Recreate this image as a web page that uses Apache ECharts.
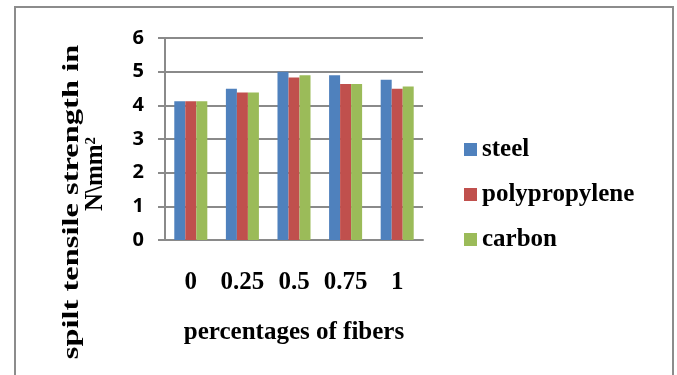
<!DOCTYPE html>
<html>
<head>
<meta charset="utf-8">
<script src="https://cdn.jsdelivr.net/npm/echarts@6/dist/echarts.min.js"></script>
<style>
html,body{margin:0;padding:0;background:#fff;}
#chart{width:677px;height:375px;}
</style>
</head>
<body>
<div id="chart"></div>
<script>
var categories = ['0', '0.25', '0.5', '0.75', '1'];
var seriesNames = ['steel', 'polypropylene', 'carbon'];
var steel = [4.12, 4.49, 5.0, 4.89, 4.76];
var polypropylene = [4.12, 4.38, 4.83, 4.63, 4.49];
var carbon = [4.12, 4.38, 4.89, 4.63, 4.56];
var yTicks = [0, 1, 2, 3, 4, 5, 6];
var colors = ['#4F81BD', '#C0504D', '#9BBB59'];

var serif = '"Liberation Serif", "Times New Roman", serif';
var chart = echarts.init(document.getElementById('chart'));
var values = [steel, polypropylene, carbon];
chart.setOption({
  animation: false,
  backgroundColor: '#fff',
  grid: {left: 165, top: 38, width: 258, height: 202, containLabel: false},
  legend: {
    orient: 'vertical', left: 464, top: 137, padding: 0,
    itemWidth: 13, itemHeight: 13, itemGap: 20,
    icon: 'rect',
    data: seriesNames,
    textStyle: {fontFamily: serif, fontWeight: 'bold', fontSize: 25, lineHeight: 25, color: '#000'}
  },
  xAxis: {
    type: 'category', data: categories,
    axisLine: {lineStyle: {color: '#8a8a8a', width: 2}},
    axisTick: {show: false},
    axisLabel: {interval: 0, fontFamily: serif, fontWeight: 'bold', fontSize: 25, color: '#000', margin: 30},
    name: 'percentages of fibers', nameLocation: 'middle', nameGap: 80,
    nameTextStyle: {fontFamily: serif, fontWeight: 'bold', fontSize: 25, color: '#000'}
  },
  yAxis: {
    type: 'value', min: yTicks[0], max: yTicks[yTicks.length - 1], interval: 1,
    axisLine: {show: true, lineStyle: {color: '#8a8a8a', width: 2}},
    axisTick: {show: true, length: 7, lineStyle: {color: '#8a8a8a', width: 2}},
    splitLine: {lineStyle: {color: '#8a8a8a', width: 2}},
    axisLabel: {fontFamily: '"Open Sans", sans-serif', fontWeight: 'bold', fontSize: 20, color: '#000', margin: 21}
  },
  graphic: [
    {type: 'rect', shape: {x: 15, y: 7, width: 658, height: 400}, style: {fill: 'none', stroke: '#8c8c8c', lineWidth: 2}, silent: true},
    {type: 'text', x: 72, y: 202, rotation: Math.PI / 2, scaleX: 1.3, scaleY: 0.92,
      style: {text: 'spilt tensile strength in', fontFamily: serif, fontWeight: 'bold', fontSize: 25, fill: '#000', align: 'center', verticalAlign: 'middle'}},
    {type: 'text', x: 96, y: 174, rotation: Math.PI / 2,
      style: {text: 'N\\mm{s|2}', fontFamily: serif, fontWeight: 'bold', fontSize: 25, fill: '#000', align: 'center', verticalAlign: 'middle',
        rich: {s: {fontFamily: serif, fontWeight: 'bold', fontSize: 15, verticalAlign: 'top', padding: [0,0,10,0]}}}}
  ],
  series: values.map(function (v, i) {
    return {
      name: seriesNames[i], type: 'bar', data: v,
      barGap: '0%', barCategoryGap: '36%',
      itemStyle: {color: colors[i]}
    };
  })
});
</script>
</body>
</html>
